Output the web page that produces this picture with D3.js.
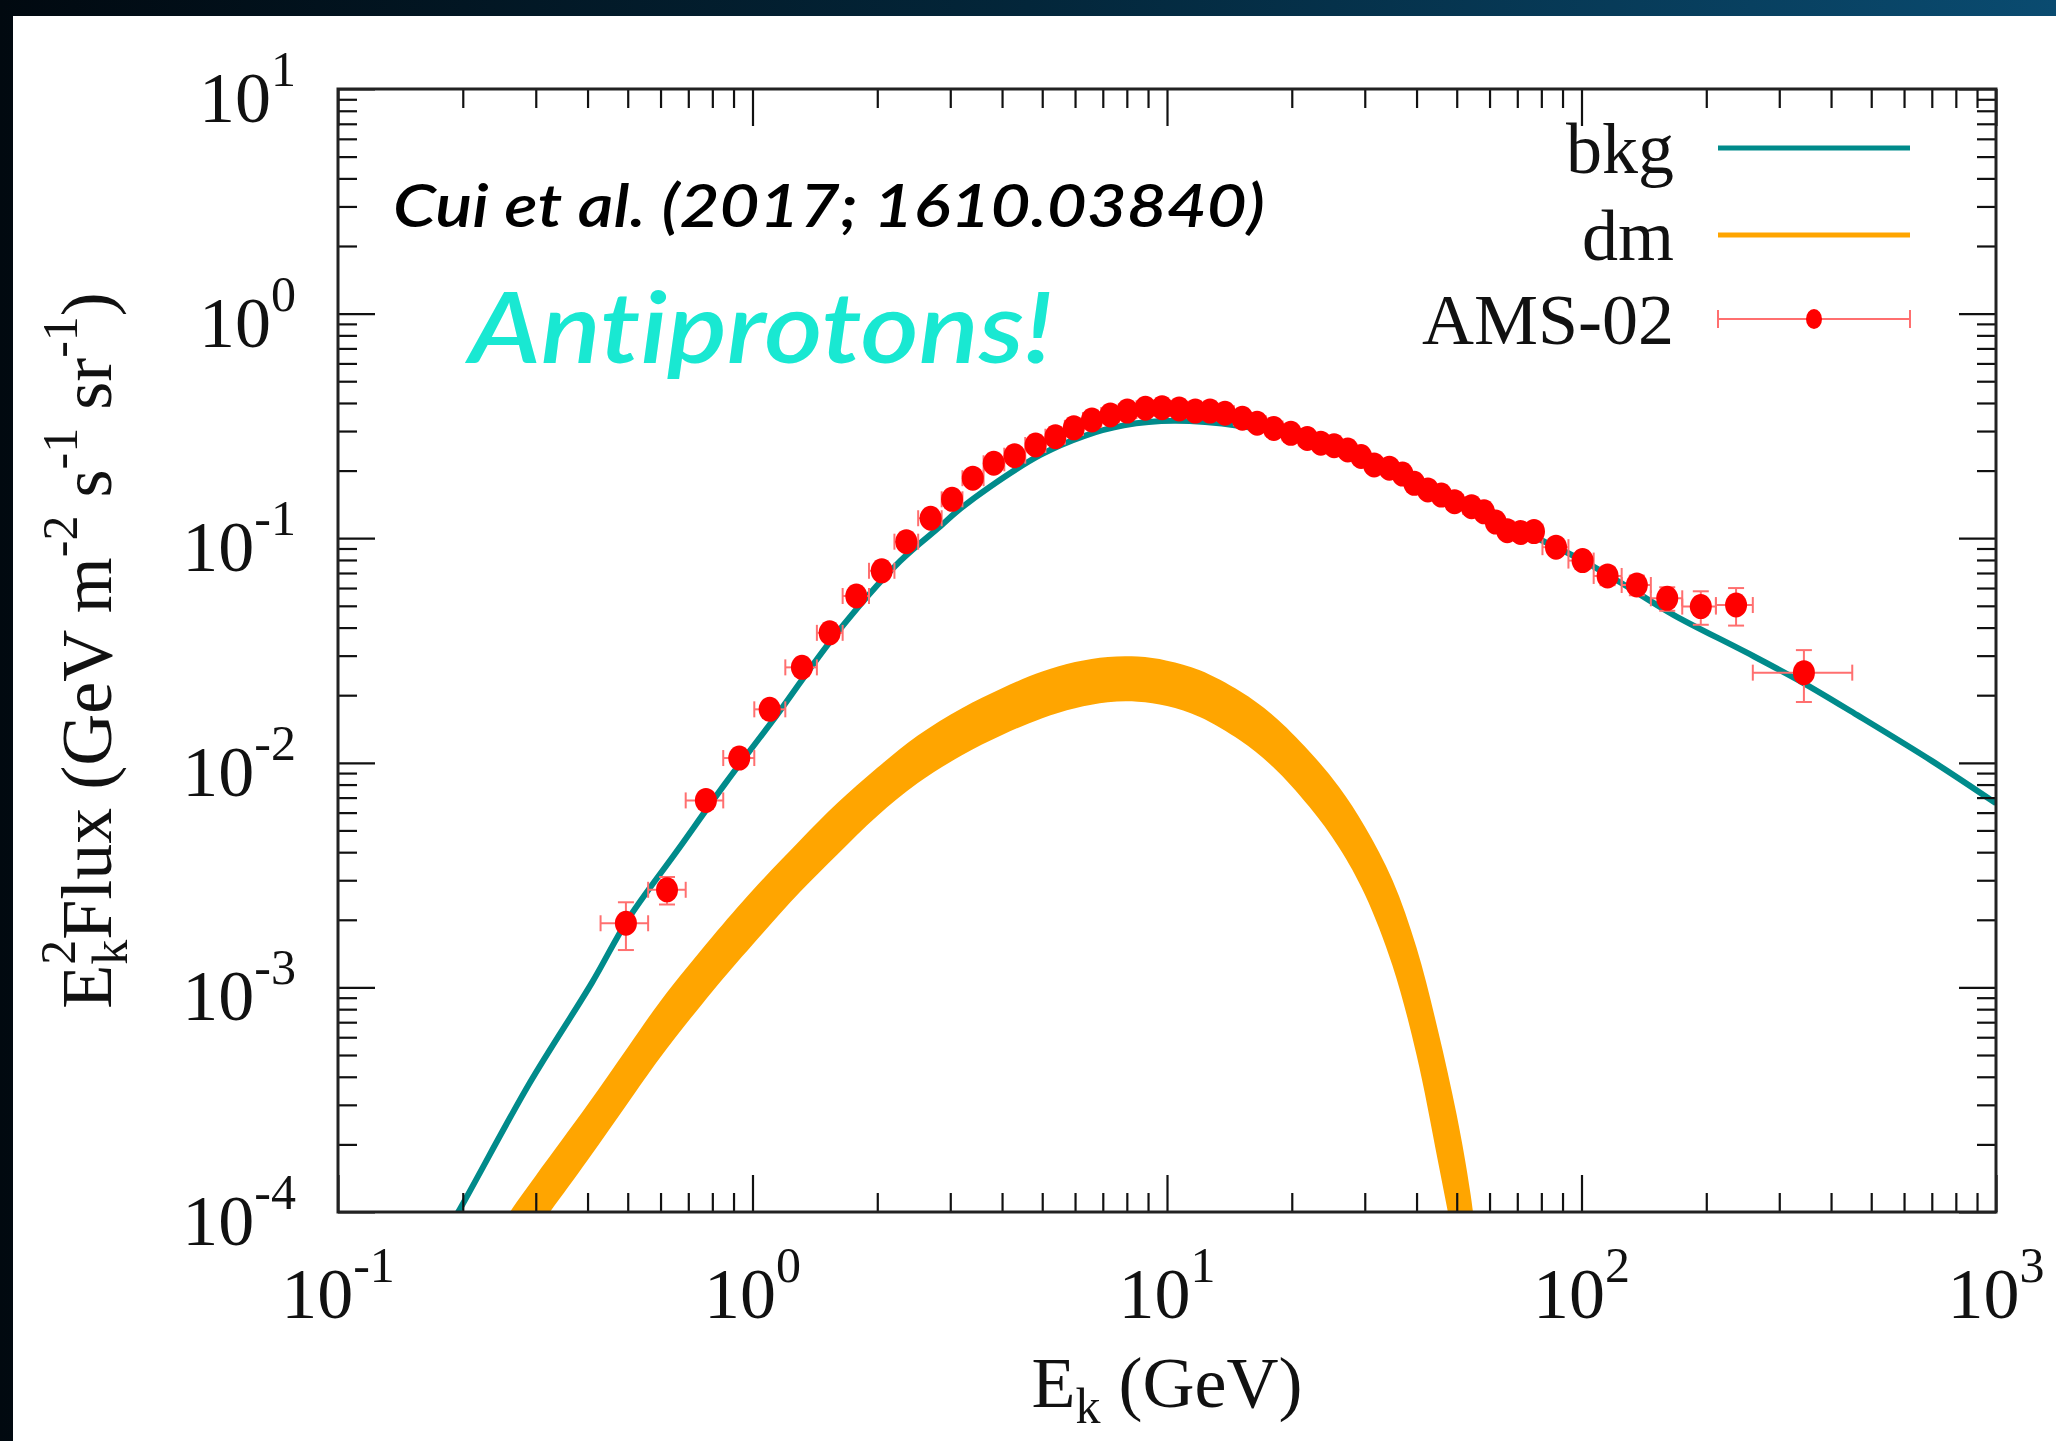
<!DOCTYPE html>
<html><head><meta charset="utf-8">
<script src="https://cdn.jsdelivr.net/npm/d3@7"></script>
<style>html,body{margin:0;padding:0;background:#02101a;} svg{display:block} .nolig{font-variant-ligatures:none;font-feature-settings:"liga" 0,"dlig" 0;}</style>
</head><body>
<svg id="chart" width="2056" height="1441"></svg>
<script>
// ---------------- data ----------------
const xTickExps = [-1, 0, 1, 2, 3];
const yTickExps = [-4, -3, -2, -1, 0, 1];
const legendLabels = ["bkg", "dm", "AMS-02"];
const noteText = "Cui et al. (2017; 1610.03840)";
const titleText = "Antiprotons!";

// AMS-02 antiproton points (E_k in GeV, E^2 flux)
const amsE = [
  0.495, 0.622, 0.772, 0.929, 1.10, 1.316, 1.535, 1.78, 2.05, 2.35,
  2.69, 3.03, 3.40, 3.82, 4.29, 4.82, 5.38, 5.96, 6.59, 7.30,
  8.02, 8.87, 9.73, 10.7, 11.7, 12.7, 13.8, 15.2, 16.5, 18.1,
  19.9, 21.8, 23.5, 25.3, 27.3, 29.4, 31.6, 34.4, 37.0, 39.5,
  42.6, 45.9, 49.4, 54.3, 58.2, 62.1, 66.2, 71.3, 76.8, 86.8,
  100.6, 115.6, 136, 161, 194, 236, 344];
const amsF = [
  1.93e-3, 2.72e-3, 6.8e-3, 1.05e-2, 1.73e-2, 2.66e-2, 3.79e-2, 5.53e-2, 7.16e-2, 9.65e-2,
  0.1227, 0.149, 0.185, 0.2156, 0.233, 0.260, 0.283, 0.310, 0.336, 0.3535,
  0.368, 0.379, 0.381, 0.376, 0.368, 0.368, 0.360, 0.342, 0.325, 0.308,
  0.293, 0.278, 0.265, 0.258, 0.247, 0.231, 0.212, 0.205, 0.193, 0.1755,
  0.164, 0.1556, 0.1454, 0.138, 0.131, 0.118, 0.108, 0.106, 0.107, 0.0912,
  0.0795, 0.0679, 0.0619, 0.054, 0.0496, 0.0504, 0.0252];
const amsRelErr = [
  0.24, 0.14, 0.08, 0.06, 0.05, 0.05, 0.05, 0.05, 0.05, 0.05,
  0.05, 0.05, 0.05, 0.05, 0.05, 0.05, 0.05, 0.05, 0.05, 0.05,
  0.05, 0.05, 0.05, 0.05, 0.05, 0.05, 0.05, 0.05, 0.05, 0.05,
  0.05, 0.05, 0.05, 0.05, 0.05, 0.05, 0.05, 0.05, 0.05, 0.05,
  0.05, 0.05, 0.05, 0.05, 0.05, 0.06, 0.06, 0.06, 0.06, 0.07,
  0.08, 0.09, 0.10, 0.12, 0.17, 0.19, 0.26];
const amsEdges = [
  0.43, 0.56, 0.69, 0.85, 1.01, 1.20, 1.43, 1.65, 1.91, 2.20,
  2.51, 2.86, 3.21, 3.61, 4.05, 4.55, 5.09, 5.67, 6.27, 6.94,
  7.65, 8.44, 9.29, 10.2, 11.2, 12.2, 13.2, 14.5, 15.8, 17.3,
  19.0, 20.8, 22.6, 24.4, 26.3, 28.3, 30.5, 33.0, 35.7, 38.2,
  41.0, 44.2, 47.6, 51.8, 56.2, 60.1, 64.1, 68.7, 74.0, 80.5,
  93.0, 107, 125, 147, 175, 211, 259, 450];

// background model curve
const bkgE = [0.17, 0.195, 0.29, 0.41, 0.50, 0.66, 0.86, 1.15, 1.57, 2.27, 2.84, 3.12, 3.75, 4.95, 6.3, 7.87, 10.4, 15, 20, 30, 50, 80, 100, 125, 167, 250, 344, 463, 700, 1000];
const bkgF = [6.5e-5, 1.0e-4, 3.75e-4, 1.05e-3, 2.0e-3, 4.09e-3, 8.1e-3, 0.0165, 0.0363, 0.079, 0.113, 0.132, 0.170, 0.235, 0.285, 0.318, 0.333, 0.316, 0.285, 0.220, 0.145, 0.098, 0.080, 0.0630, 0.0455, 0.0310, 0.0226, 0.0163, 0.0102, 0.0066];

// dark matter band (lower / upper edge)
const dmE    = [0.22, 0.26, 0.30, 0.40, 0.50, 0.60, 0.80, 1.0, 1.3, 1.6, 2.0, 2.5, 3.2, 4.0, 5.0, 6.0, 7.2, 8.5, 10, 12, 15, 18, 22, 26, 30, 35, 40, 45, 50, 54, 58];
const dmLow  = [3.4e-5, 5.7e-5, 8.2e-5, 1.7e-4, 3.05e-4, 4.9e-4, 9.6e-4, 1.55e-3, 2.65e-3, 3.9e-3, 5.8e-3, 8.1e-3, 0.0108, 0.0133, 0.0158, 0.0175, 0.0186, 0.0187, 0.0179, 0.0160, 0.0126, 0.0096, 0.0064, 0.0042, 0.0026, 0.00125, 5.0e-4, 1.7e-4, 6e-5, 2e-5, 5e-6];
const dmHigh = [6.0e-5, 1.0e-4, 1.45e-4, 3.0e-4, 5.4e-4, 8.7e-4, 1.68e-3, 2.7e-3, 4.5e-3, 6.6e-3, 9.5e-3, 0.0132, 0.0175, 0.0215, 0.0255, 0.0281, 0.0296, 0.0297, 0.0285, 0.0258, 0.0208, 0.0163, 0.0113, 0.0078, 0.0052, 0.0030, 0.0015, 6.5e-4, 2.7e-4, 1.2e-4, 4e-5];

// ---------------- layout ----------------
const W = 2056, H = 1441;
const m = {left: 338, right: 1996, top: 89, bottom: 1212};
const svg = d3.select("#chart");
const x = d3.scaleLog().domain([0.1, 1000]).range([m.left, m.right]);
const y = d3.scaleLog().domain([1e-4, 10]).range([m.bottom, m.top]);

const defs = svg.append("defs");
const grad = defs.append("linearGradient").attr("id", "bg").attr("x1", "0").attr("y1", "0").attr("x2", "1").attr("y2", "0");
grad.append("stop").attr("offset", "0").attr("stop-color", "#010910");
grad.append("stop").attr("offset", "0.5").attr("stop-color", "#03263a");
grad.append("stop").attr("offset", "1").attr("stop-color", "#0a4b70");
defs.append("clipPath").attr("id", "plotclip").append("rect")
  .attr("x", m.left).attr("y", m.top).attr("width", m.right - m.left).attr("height", m.bottom - m.top);

svg.append("rect").attr("width", W).attr("height", H).attr("fill", "url(#bg)");
svg.append("rect").attr("x", 13).attr("y", 16).attr("width", W - 13).attr("height", H - 16).attr("fill", "#ffffff");

const plot = svg.append("g").attr("clip-path", "url(#plotclip)");

// dm band
const dmData = dmE.map((e, i) => ({e, lo: dmLow[i], hi: dmHigh[i]}));
plot.append("path").datum(dmData)
  .attr("fill", "#ffa500")
  .attr("d", d3.area().x(d => x(d.e)).y0(d => y(d.lo)).y1(d => y(d.hi)).curve(d3.curveCatmullRom));

// bkg line
const bkgData = bkgE.map((e, i) => ({e, f: bkgF[i]}));
plot.append("path").datum(bkgData)
  .attr("fill", "none").attr("stroke", "#008b8b").attr("stroke-width", 6)
  .attr("d", d3.line().x(d => x(d.e)).y(d => y(d.f)).curve(d3.curveCatmullRom));

// AMS-02 points
const ams = amsE.map((e, i) => ({e, f: amsF[i], r: amsRelErr[i], lo: amsEdges[i], hi: amsEdges[i + 1]}));
const errCol = "#ff6f6f";
const eg = plot.append("g").attr("stroke", errCol).attr("stroke-width", 2).attr("fill", "none");
ams.forEach(d => {
  const cx = x(d.e), cy = y(d.f);
  const xl = x(d.lo), xr = x(d.hi);
  const yt = y(d.f * (1 + d.r)), yb = y(d.f * (1 - d.r));
  eg.append("line").attr("x1", xl).attr("x2", xr).attr("y1", cy).attr("y2", cy);
  eg.append("line").attr("x1", xl).attr("x2", xl).attr("y1", cy - 8).attr("y2", cy + 8);
  eg.append("line").attr("x1", xr).attr("x2", xr).attr("y1", cy - 8).attr("y2", cy + 8);
  eg.append("line").attr("x1", cx).attr("x2", cx).attr("y1", yt).attr("y2", yb);
  eg.append("line").attr("x1", cx - 8).attr("x2", cx + 8).attr("y1", yt).attr("y2", yt);
  eg.append("line").attr("x1", cx - 8).attr("x2", cx + 8).attr("y1", yb).attr("y2", yb);
});
plot.append("g").selectAll("ellipse").data(ams).join("ellipse")
  .attr("cx", d => x(d.e)).attr("cy", d => y(d.f)).attr("rx", 11).attr("ry", 12.5)
  .attr("fill", "#ff0000");

// ---------------- axes ----------------
const xMaj = xTickExps.map(p => Math.pow(10, p));
const yMaj = yTickExps.map(p => Math.pow(10, p));
const xMin = [], yMin = [];
for (let p = -1; p < 3; p++) for (let k = 2; k <= 9; k++) xMin.push(k * Math.pow(10, p));
for (let p = -4; p < 1; p++) for (let k = 2; k <= 9; k++) yMin.push(k * Math.pow(10, p));

const MAJ = 37, MIN = 19;
function styleAxis(g) {
  g.select(".domain").remove();
  g.selectAll(".tick line").attr("stroke", "#111").attr("stroke-width", 2.2);
  g.selectAll(".tick text").remove();
}
[[xMaj, MAJ], [xMin, MIN]].forEach(([vals, len]) => {
  svg.append("g").attr("transform", `translate(0,${m.bottom})`)
    .call(d3.axisBottom(x).tickValues(vals).tickSize(-len).tickFormat("")).call(styleAxis);
  svg.append("g").attr("transform", `translate(0,${m.top})`)
    .call(d3.axisTop(x).tickValues(vals).tickSize(-len).tickFormat("")).call(styleAxis);
});
[[yMaj, MAJ], [yMin, MIN]].forEach(([vals, len]) => {
  svg.append("g").attr("transform", `translate(${m.left},0)`)
    .call(d3.axisLeft(y).tickValues(vals).tickSize(-len).tickFormat("")).call(styleAxis);
  svg.append("g").attr("transform", `translate(${m.right},0)`)
    .call(d3.axisRight(y).tickValues(vals).tickSize(-len).tickFormat("")).call(styleAxis);
});
svg.append("rect").attr("x", m.left).attr("y", m.top).attr("width", m.right - m.left).attr("height", m.bottom - m.top)
  .attr("fill", "none").attr("stroke", "#222").attr("stroke-width", 3);

const serif = "'Liberation Serif', 'DejaVu Serif', serif";
// x tick labels
xTickExps.forEach(p => {
  const t = svg.append("text").attr("x", x(Math.pow(10, p))).attr("y", 1318)
    .attr("text-anchor", "middle").attr("font-family", serif).attr("font-size", 72).attr("fill", "#111");
  t.append("tspan").text("10");
  t.append("tspan").attr("dy", -36).attr("font-size", 50).text(p < 0 ? "-" + (-p) : String(p));
});
// y tick labels
yTickExps.forEach(p => {
  const t = svg.append("text").attr("x", 296).attr("y", y(Math.pow(10, p)) + 33)
    .attr("text-anchor", "end").attr("font-family", serif).attr("font-size", 72).attr("fill", "#111");
  t.append("tspan").text("10");
  t.append("tspan").attr("dy", -36).attr("font-size", 50).text(p < 0 ? "-" + (-p) : String(p));
});

// x axis title
const xt = svg.append("text").attr("x", (m.left + m.right) / 2).attr("y", 1407)
  .attr("text-anchor", "middle").attr("font-family", serif).attr("font-size", 72).attr("fill", "#111");
xt.append("tspan").text("E");
xt.append("tspan").attr("dy", 16).attr("font-size", 50).text("k");
xt.append("tspan").attr("dy", -16).text(" (GeV)");

// y axis title
const yt = svg.append("text").attr("transform", `translate(111,${(m.top + m.bottom) / 2}) rotate(-90)`)
  .attr("text-anchor", "middle").attr("font-family", serif).attr("font-size", 72).attr("fill", "#111");
yt.append("tspan").text("E");
yt.append("tspan").attr("dy", 16).attr("font-size", 50).text("k");
yt.append("tspan").attr("dy", -52).attr("dx", -25).attr("font-size", 50).text("2");
yt.append("tspan").attr("dy", 36).text("Flux (GeV m");
yt.append("tspan").attr("dy", -34).attr("font-size", 50).text("-2");
yt.append("tspan").attr("dy", 34).text(" s");
yt.append("tspan").attr("dy", -34).attr("font-size", 50).text("-1");
yt.append("tspan").attr("dy", 34).text(" sr");
yt.append("tspan").attr("dy", -34).attr("font-size", 50).text("-1");
yt.append("tspan").attr("dy", 34).text(")");

// legend
const legY = [148, 235, 319];
const legX0 = 1718, legX1 = 1910;
legendLabels.forEach((lab, i) => {
  svg.append("text").attr("x", 1674).attr("y", legY[i] + 25).attr("text-anchor", "end")
    .attr("font-family", serif).attr("font-size", 72).attr("fill", "#111").text(lab);
});
svg.append("line").attr("x1", legX0).attr("x2", legX1).attr("y1", legY[0]).attr("y2", legY[0])
  .attr("stroke", "#008b8b").attr("stroke-width", 5);
svg.append("line").attr("x1", legX0).attr("x2", legX1).attr("y1", legY[1]).attr("y2", legY[1])
  .attr("stroke", "#ffa500").attr("stroke-width", 5);
const lg = svg.append("g").attr("stroke", errCol).attr("stroke-width", 2);
lg.append("line").attr("x1", legX0).attr("x2", legX1).attr("y1", legY[2]).attr("y2", legY[2]);
lg.append("line").attr("x1", legX0).attr("x2", legX0).attr("y1", legY[2] - 9).attr("y2", legY[2] + 9);
lg.append("line").attr("x1", legX1).attr("x2", legX1).attr("y1", legY[2] - 9).attr("y2", legY[2] + 9);
svg.append("ellipse").attr("cx", (legX0 + legX1) / 2).attr("cy", legY[2]).attr("rx", 8).attr("ry", 10).attr("fill", "#ff0000");

// annotations
svg.append("text").attr("class", "nolig").attr("x", 393).attr("y", 227).attr("font-family", "Lato, 'Open Sans', sans-serif")
  .attr("font-style", "italic").attr("font-weight", 600).attr("font-size", 60)
  .attr("textLength", 872).attr("lengthAdjust", "spacingAndGlyphs").attr("fill", "#000").text(noteText);
svg.append("text").attr("class", "nolig").attr("x", 469).attr("y", 363).attr("font-family", "Lato, 'Open Sans', sans-serif")
  .attr("font-style", "italic").attr("font-weight", 600).attr("font-size", 98)
  .attr("textLength", 584).attr("lengthAdjust", "spacingAndGlyphs").attr("fill", "#19e8d2").text(titleText);
</script>
</body></html>
